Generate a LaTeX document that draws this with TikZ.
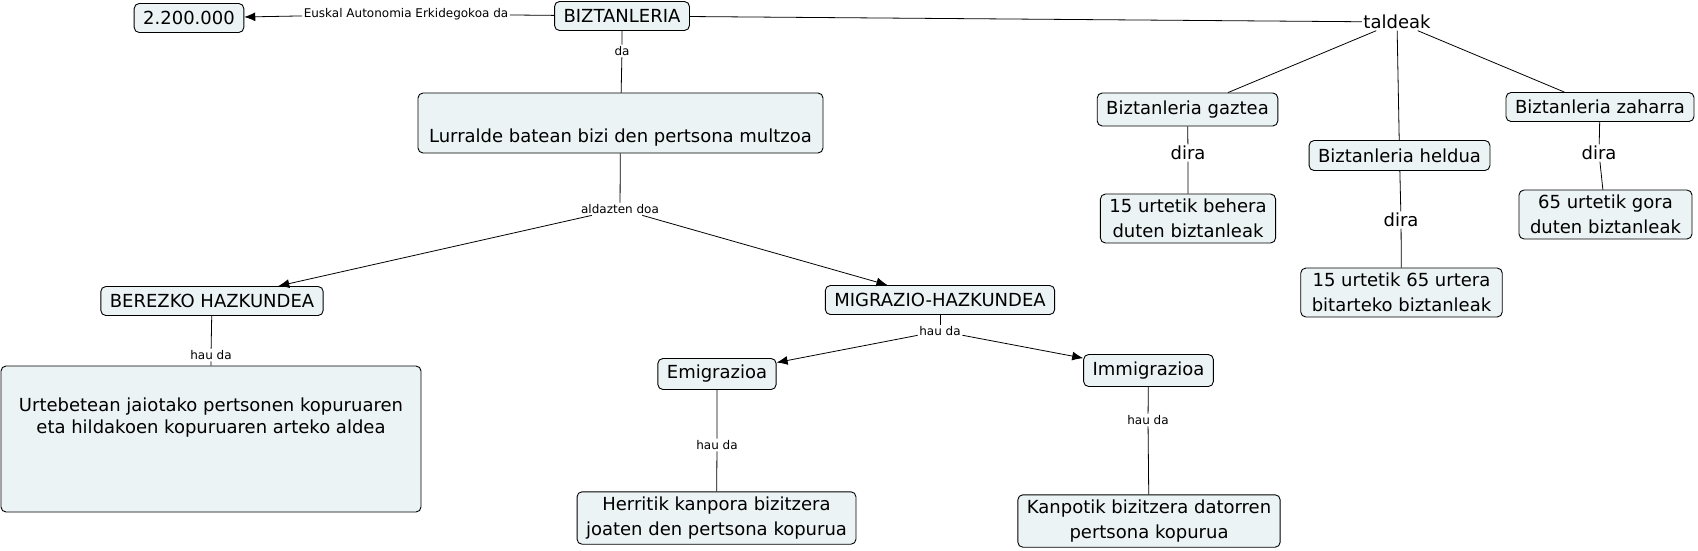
\documentclass[tikz,border=0pt]{standalone}
\usepackage{fontspec}
\setmainfont{DejaVu Sans}
\usetikzlibrary{arrows.meta,calc}
\definecolor{cmapfill}{RGB}{236,243,245}
\newcommand{\cfont}{\fontsize{18}{25}\selectfont}
\newcommand{\lfont}{\fontsize{12}{14}\selectfont}

\begin{document}
\begin{tikzpicture}[x=1pt,y=-1pt,
  concept/.style={draw, fill=cmapfill, rounded corners=5pt, line width=0.9pt,
    font=\cfont, align=center, inner xsep=9pt, inner ysep=5pt, minimum height=29pt},
  linklbl/.style={font=\lfont, inner sep=1.5pt},
  biglbl/.style={font=\cfont, inner sep=1.5pt},
  conn/.style={line width=0.8pt},
  arr/.style={conn, -{Latex[length=11pt,width=9pt]}}]

\useasboundingbox (0,0) rectangle (1698,550);

% concepts
\node[concept] (num) at (189,18) {2.200.000};
\node[concept] (bizt) at (622,16) {BIZTANLERIA};
\node[concept, minimum width=405pt, text height=43pt, text depth=5pt, inner ysep=6pt]
  (lurr) at (620.5,123) {Lurralde batean bizi den pertsona multzoa};

\node[concept, minimum height=33pt] (gaztea) at (1187.5,109.5) {Biztanleria gaztea};
\node[concept] (behera) at (1188,218.5) {15 urtetik behera\\duten biztanleak};
\node[concept, minimum height=30pt] (heldua) at (1399.5,155.5) {Biztanleria heldua};
\node[concept, inner xsep=11pt] (bitarte) at (1401.5,292.5) {15 urtetik 65 urtera\\bitarteko biztanleak};
\node[concept] (zaharra) at (1600,107) {Biztanleria zaharra};
\node[concept, inner xsep=11pt] (gora) at (1605.5,214.5) {65 urtetik gora\\duten biztanleak};

\node[concept] (berezko) at (212,301) {BEREZKO HAZKUNDEA};
\node[concept] (migrazio) at (940,300) {MIGRAZIO-HAZKUNDEA};
\node[concept, minimum width=420pt, minimum height=146pt] (urte) at (211,439) {};
\node[font=\fontsize{18}{22}\selectfont, align=center] (urtetxt) at ([yshift=21pt]urte.center)
  {Urtebetean jaiotako pertsonen kopuruaren\\eta hildakoen kopuruaren arteko aldea};
\node[concept, minimum height=31pt] (emi) at (717,374) {Emigrazioa};
\node[concept, minimum height=32pt] (immi) at (1148.5,370.5) {Immigrazioa};
\node[concept] (herri) at (716.5,518) {Herritik kanpora bizitzera\\joaten den pertsona kopurua};
\node[concept] (kanpo) at (1149,521) {Kanpotik bizitzera datorren\\pertsona kopurua};

% link labels
\node[linklbl] (euskal) at (406,14) {Euskal Autonomia Erkidegokoa da};
\node[linklbl] (da) at (622,51) {da};
\node[biglbl] (taldeak) at (1397,22) {taldeak};
\node[linklbl] (aldazten) at (620,209) {aldazten doa};
\node[biglbl] (dira1) at (1188,153) {dira};
\node[biglbl] (dira2) at (1401,220) {dira};
\node[biglbl] (dira3) at (1599,153) {dira};
\node[linklbl] (haudaB) at (211,355) {hau da};
\node[linklbl] (haudaM) at (940,331) {hau da};
\node[linklbl] (haudaE) at (717,445) {hau da};
\node[linklbl] (haudaI) at (1148,420) {hau da};

% connectors
\draw[conn] (bizt) -- (euskal);
\draw[arr] (euskal) -- (num);
\draw[conn] (bizt) -- (da) -- (lurr);
\draw[conn] (bizt) -- (taldeak);
\draw[conn] (taldeak) -- (gaztea);
\draw[conn] (taldeak) -- (heldua);
\draw[conn] (taldeak) -- (zaharra);
\draw[conn] (gaztea) -- (dira1) -- (behera);
\draw[conn] (heldua) -- (dira2) -- (bitarte);
\draw[conn] (zaharra) -- (dira3) -- (gora);
\draw[conn] (lurr) -- (aldazten);
\draw[arr] (aldazten) -- (berezko);
\draw[arr] (aldazten) -- (migrazio);
\draw[conn] (berezko) -- (haudaB) -- (urte);
\draw[conn] (migrazio) -- (haudaM);
\draw[arr] (haudaM) -- (emi);
\draw[arr] (haudaM) -- (immi);
\draw[conn] (emi) -- (haudaE) -- (herri);
\draw[conn] (immi) -- (haudaI) -- (kanpo);

\end{tikzpicture}
\end{document}
